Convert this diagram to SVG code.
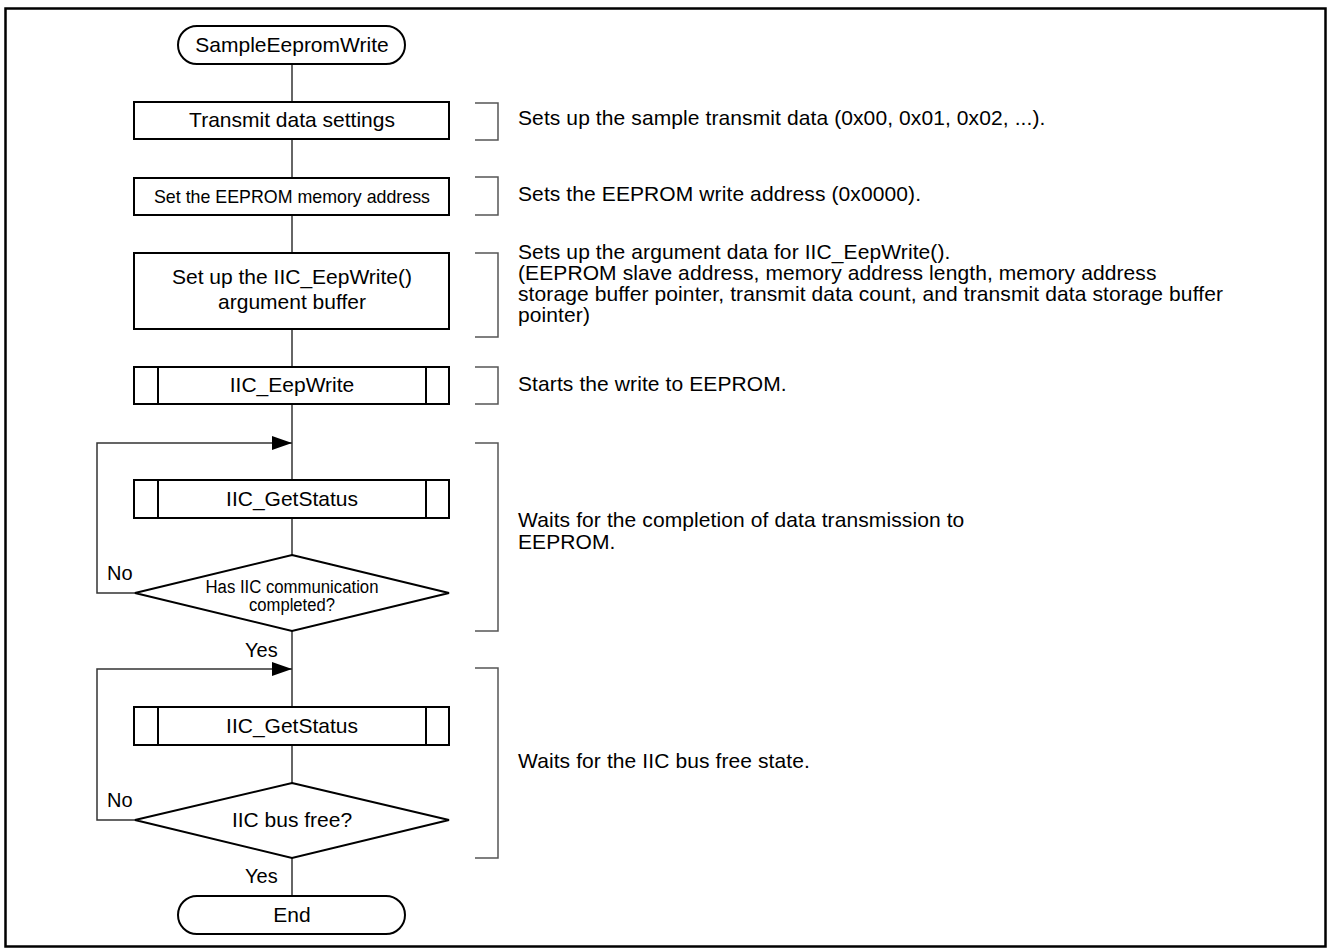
<svg xmlns="http://www.w3.org/2000/svg" width="1328" height="950" viewBox="0 0 1328 950">
<style>
text{font-family:"Liberation Sans",Arial,sans-serif;font-size:21px;fill:#000}
.c{text-anchor:middle}
.lbl{font-size:20px}
.note{letter-spacing:0.1px}
.box{fill:#fff;stroke:#000;stroke-width:2}
.flow{fill:none;stroke:#666;stroke-width:2}
.loop{fill:none;stroke:#333;stroke-width:1.5}
.br{fill:none;stroke:#555;stroke-width:1.5}
</style>
<defs>
<marker id="ah" markerWidth="20" markerHeight="14" refX="20" refY="7" orient="auto" markerUnits="userSpaceOnUse">
<path d="M0,0 L20,7 L0,14 Z" fill="#000"/>
</marker>
</defs>
<rect x="5.5" y="8.5" width="1320" height="938" fill="#fff" stroke="#000" stroke-width="2.5"/>
<g id="connectors">
<path class="flow" d="M292,64 V102 M292,139 V178 M292,215 V253 M292,329 V367 M292,404 V480 M292,518 V555 M292,631 V707 M292,745 V783 M292,858 V896"/>
<path class="loop" d="M135,593 H97 V443 H292" marker-end="url(#ah)"/>
<path class="loop" d="M135,820 H97 V669 H292" marker-end="url(#ah)"/>
<text class="lbl" x="107" y="580">No</text>
<text class="lbl" x="245" y="657">Yes</text>
<text class="lbl" x="107" y="807">No</text>
<text class="lbl" x="245" y="883">Yes</text>
</g>
<g id="start">
<rect class="box" x="178" y="26" width="227" height="38" rx="19"/>
<text class="c" x="292" y="52">SampleEepromWrite</text>
</g>
<g id="transmit">
<rect class="box" x="134" y="102" width="315" height="37"/>
<text class="c" x="292" y="127">Transmit data settings</text>
</g>
<g id="setaddr">
<rect class="box" x="134" y="178" width="315" height="37"/>
<text class="c" x="292" y="203" style="font-size:19px" textLength="276" lengthAdjust="spacingAndGlyphs">Set the EEPROM memory address</text>
</g>
<g id="setarg">
<rect class="box" x="134" y="253" width="315" height="76"/>
<text class="c" x="292" y="284">Set up the IIC_EepWrite()</text>
<text class="c" x="292" y="309">argument buffer</text>
</g>
<g id="eepwrite">
<rect class="box" x="134" y="367" width="315" height="37"/>
<path class="box" d="M158,367 V404 M426,367 V404"/>
<text class="c" x="292" y="392">IIC_EepWrite</text>
</g>
<g id="getstatus1">
<rect class="box" x="134" y="480" width="315" height="38"/>
<path class="box" d="M158,480 V518 M426,480 V518"/>
<text class="c" x="292" y="506">IIC_GetStatus</text>
</g>
<g id="dec1">
<polygon class="box" points="292,555 449,593 292,631 135,593"/>
<text class="c" x="292" y="593" style="font-size:18px" textLength="173" lengthAdjust="spacingAndGlyphs">Has IIC communication</text>
<text class="c" x="292" y="611" style="font-size:18px" textLength="86" lengthAdjust="spacingAndGlyphs">completed?</text>
</g>
<g id="getstatus2">
<rect class="box" x="134" y="707" width="315" height="38"/>
<path class="box" d="M158,707 V745 M426,707 V745"/>
<text class="c" x="292" y="733">IIC_GetStatus</text>
</g>
<g id="dec2">
<polygon class="box" points="292,783 449,820 292,858 135,820"/>
<text class="c" x="292" y="827">IIC bus free?</text>
</g>
<g id="end">
<rect class="box" x="178" y="896" width="227" height="38" rx="19"/>
<text class="c" x="292" y="922">End</text>
</g>
<g id="notes">
<path class="br" d="M475,103 H498 V140 H475"/>
<path class="br" d="M475,177 H498 V215 H475"/>
<path class="br" d="M475,253 H498 V337 H475"/>
<path class="br" d="M475,367 H498 V404 H475"/>
<path class="br" d="M475,443 H498 V631 H475"/>
<path class="br" d="M475,668 H498 V858 H475"/>
<text class="note" x="518" y="125">Sets up the sample transmit data (0x00, 0x01, 0x02, ...).</text>
<text class="note" x="518" y="201">Sets the EEPROM write address (0x0000).</text>
<text class="note" x="518" y="259">Sets up the argument data for IIC_EepWrite().</text>
<text class="note" x="518" y="280">(EEPROM slave address, memory address length, memory address</text>
<text class="note" x="518" y="301">storage buffer pointer, transmit data count, and transmit data storage buffer</text>
<text class="note" x="518" y="322">pointer)</text>
<text class="note" x="518" y="391">Starts the write to EEPROM.</text>
<text class="note" x="518" y="527">Waits for the completion of data transmission to</text>
<text class="note" x="518" y="549">EEPROM.</text>
<text class="note" x="518" y="768">Waits for the IIC bus free state.</text>
</g>
</svg>
